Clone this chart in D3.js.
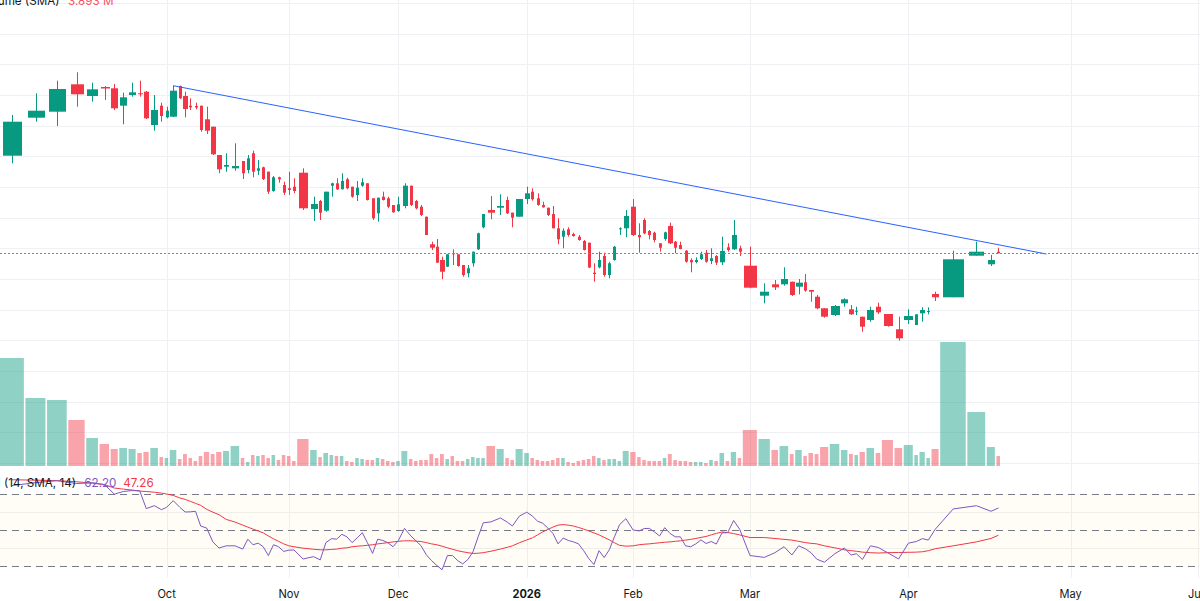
<!DOCTYPE html>
<html><head><meta charset="utf-8">
<script src="https://cdn.jsdelivr.net/npm/d3@7"></script>
<style>
html,body{margin:0;padding:0;background:#fff;overflow:hidden}
svg{display:block;font-family:Inter,"Noto Sans",sans-serif}
</style></head><body>
<svg id="chart" width="1200" height="601"></svg>
<script>
// ---------- DATA ----------
const opens = [44.43,48.23,48.83,51.57,50.40,51.30,51.17,49.43,50.50,50.67,
50.83,47.50,49.43,48.27,48.33,51.40,50.40,49.43,49.40,49.43,
48.07,47.33,44.50,43.33,43.17,43.90,43.00,44.67,42.93,43.27,
42.83,40.90,42.27,41.50,41.17,41.33,42.73,39.10,39.90,38.93,
41.43,41.67,41.07,42.07,41.33,40.50,41.43,41.67,40.17,38.67,
40.33,40.17,39.50,38.90,39.40,41.43,39.90,39.33,38.33,35.57,
35.33,34.00,33.33,34.67,34.57,33.50,32.67,33.67,35.07,37.27,
39.00,39.23,40.00,38.73,38.33,40.10,40.83,40.17,39.50,39.23,
38.60,37.17,36.33,37.07,36.60,36.33,35.90,35.73,32.73,33.27,
34.40,32.50,34.00,37.07,37.17,39.33,36.50,38.00,36.90,36.73,
35.67,36.10,37.40,35.83,35.50,34.93,34.00,33.80,34.10,34.73,
33.90,34.40,33.77,35.27,35.07,35.17,33.43,30.43,31.57,31.57,
31.83,31.33,31.77,31.00,30.33,29.17,28.50,29.67,29.07,28.83,
28.33,28.00,29.33,28.60,27.07,28.00,27.50,28.67,28.80,30.60,
30.27,34.43,33.57,34.83];
const highs = [48.50,50.67,51.93,52.77,51.73,51.40,51.60,50.73,51.73,51.93,
50.90,50.50,49.73,49.33,51.43,51.43,50.83,50.17,49.73,49.43,
49.33,47.33,44.50,44.67,45.67,43.90,44.50,44.93,44.00,43.33,
42.83,42.40,42.33,41.83,42.83,42.17,43.17,40.33,40.00,40.83,
41.73,42.17,42.67,42.23,41.33,41.90,42.17,41.67,40.17,40.23,
40.83,40.33,39.50,40.33,41.67,41.43,40.00,39.50,38.33,35.83,
36.10,34.33,34.57,35.07,34.57,33.50,33.50,34.83,36.73,38.60,
40.40,40.57,40.33,38.73,40.10,41.33,41.17,40.67,39.83,39.23,
39.40,38.17,37.17,37.27,36.73,36.50,36.00,35.73,33.67,34.83,
34.73,33.83,35.40,37.27,39.00,40.10,37.67,38.17,37.00,36.83,
35.67,36.83,37.73,35.90,35.83,35.00,34.17,34.27,34.83,35.00,
35.17,34.50,36.33,35.67,38.00,35.43,35.33,31.67,32.00,33.27,
31.83,32.10,32.60,31.00,30.50,29.17,29.50,30.17,29.50,29.33,
28.33,29.33,29.73,28.60,28.33,29.07,28.57,29.27,29.27,30.83,
34.93,35.83,34.50,35.23];
const lows = [43.67,47.83,47.40,49.33,49.83,50.00,49.00,47.57,50.33,50.33,
48.10,46.93,47.83,48.17,48.30,50.10,48.27,49.00,49.07,46.83,
46.60,44.50,42.67,42.83,42.93,42.10,42.67,42.27,42.50,42.00,
40.60,40.83,41.73,40.50,40.50,40.67,39.00,37.90,38.00,38.83,
40.33,41.00,41.07,41.07,40.23,39.90,41.33,39.95,38.00,37.83,
39.95,39.17,38.73,38.83,39.17,39.40,39.07,38.40,36.50,35.00,
33.73,32.07,33.33,33.50,33.33,32.33,32.27,33.33,35.00,37.17,
38.07,38.50,38.60,37.27,38.33,39.60,39.93,39.43,39.23,38.40,
37.17,35.57,35.17,36.33,36.33,35.93,34.95,33.20,31.83,33.17,
32.33,32.17,33.93,36.50,36.27,36.40,34.73,36.57,36.07,35.77,
34.83,35.93,35.60,34.67,35.07,33.73,32.77,33.67,34.00,33.73,
33.60,33.50,33.50,34.83,35.00,34.40,31.17,29.67,31.00,31.43,
30.40,30.57,30.83,29.83,29.07,28.23,28.40,29.33,28.50,28.50,
26.83,27.83,28.60,27.33,25.93,27.60,27.50,27.83,28.57,29.90,
30.27,34.43,33.40,34.67];
const closes = [47.83,48.93,51.10,50.57,51.07,51.15,49.17,50.27,50.77,50.57,
48.17,49.00,48.40,48.93,50.93,50.17,49.10,49.27,49.25,47.00,
46.93,44.57,43.07,43.50,43.40,42.67,44.17,42.83,43.17,42.10,
40.83,42.27,42.07,40.73,41.00,40.90,39.17,39.60,38.73,40.83,
41.67,41.07,41.90,41.17,40.33,41.23,41.77,40.00,38.17,40.23,
40.00,39.33,38.77,39.57,41.43,39.50,39.17,38.50,36.50,35.23,
33.73,32.83,34.57,34.57,33.40,32.50,33.17,34.83,36.67,38.60,
38.73,39.40,38.67,38.23,40.10,40.67,40.07,39.50,39.27,38.50,
37.17,36.07,36.93,36.50,36.40,36.00,35.00,33.25,32.60,34.00,
32.50,33.67,35.33,37.17,38.40,36.50,36.27,36.67,36.50,36.00,
35.23,36.77,35.67,35.23,35.10,33.83,33.77,34.00,34.57,33.83,
34.17,33.73,34.90,35.00,36.50,34.83,31.23,30.83,31.27,32.10,
30.50,31.73,30.93,30.83,29.17,28.33,29.40,30.07,28.57,28.93,
27.33,29.00,28.77,27.40,26.17,28.40,28.57,29.00,28.90,30.27,
34.07,34.83,34.00,34.67];
const volumes = [21.6,13.6,13.2,9.2,5.6,4.4,3.4,3.6,3.4,2.6,
2.8,3.6,1.8,1.6,3.2,1.4,2.4,1.6,1.0,2.0,
2.8,2.4,2.8,3.0,4.0,1.6,0.8,2.2,2.0,2.2,
1.6,2.2,1.2,2.2,2.0,1.0,5.4,3.2,1.8,2.6,
2.2,2.0,2.0,1.0,0.8,1.6,1.4,1.2,1.2,1.6,
1.4,1.0,0.8,1.0,3.0,1.4,1.0,1.2,1.2,2.4,
1.6,2.4,1.4,2.0,1.0,1.0,1.4,1.8,1.6,1.6,
4.0,3.4,1.6,1.2,3.4,2.6,1.6,1.2,1.0,1.0,
1.2,1.6,1.6,0.8,0.6,1.0,1.2,1.4,2.0,1.6,
1.2,1.4,1.4,1.0,3.0,2.8,1.8,1.2,1.0,1.0,
1.0,1.6,2.4,1.2,1.0,1.0,0.8,0.8,0.8,0.6,
1.2,1.0,2.6,1.0,2.8,1.6,7.2,5.4,3.2,4.0,
2.4,3.2,2.0,2.6,2.4,3.8,4.4,3.2,2.4,2.2,
2.8,3.6,2.6,5.2,3.6,4.2,2.2,2.8,1.6,3.4,
24.8,10.8,3.8,2.0];
const rsiValues = [74.7,76.3,77.4,75.8,76.3,75.2,69.9,71.4,71.9,71.8,
61.9,63.5,61.3,62.6,66.3,62.6,60.0,60.1,60.4,52.2,
51.1,43.4,40.0,41.2,41.2,39.4,44.9,41.8,42.7,40.7,
35.8,41.8,40.7,38.1,38.8,38.9,33.9,35.2,33.4,43.0,
45.2,44.9,47.6,46.2,43.0,45.6,48.5,42.9,37.0,44.9,
44.2,42.9,40.7,44.0,50.9,46.7,44.0,41.2,36.3,33.0,
30.3,27.9,35.8,35.8,33.0,31.2,33.6,37.9,46.2,54.0,
54.5,56.7,54.4,52.2,57.7,59.9,57.7,54.9,53.8,51.1,
48.1,42.3,45.5,44.2,43.4,42.3,38.5,34.1,30.8,38.5,
34.7,39.0,46.2,53.0,56.3,50.0,49.5,50.8,50.9,48.9,
46.7,51.3,48.1,46.2,46.2,41.2,40.7,42.3,44.5,42.5,
43.6,42.2,48.4,48.5,55.3,50.4,35.8,34.8,37.4,40.7,
36.1,41.2,39.6,37.4,33.8,32.1,36.8,40.0,36.1,36.8,
33.6,41.2,40.3,37.4,33.9,42.7,43.6,45.2,44.4,50.4,
61.7,63.5,60.4,62.2];
const rsiMA = [77.9,77.7,77.4,76.8,76.0,75.2,73.3,72.7,72.2,71.6,
71.4,71.0,70.5,70.0,69.2,67.8,67.0,65.9,64.8,63.7,
61.5,59.9,58.5,55.9,54.4,52.7,51.6,50.5,49.5,48.4,
46.7,45.1,43.7,42.3,41.2,40.7,39.9,39.3,39.0,39.0,
39.2,39.4,39.9,40.1,40.7,41.0,41.2,41.5,41.8,42.3,
42.6,43.0,43.4,43.7,44.0,44.0,43.8,43.6,43.0,42.3,
41.8,41.0,40.1,39.3,38.5,37.9,37.4,37.0,37.1,37.4,
38.2,39.4,40.4,41.2,42.9,44.5,45.6,47.3,48.9,50.3,
51.6,52.7,53.0,52.7,52.2,51.4,50.5,49.5,48.4,47.3,
45.9,44.5,42.9,41.5,41.0,41.2,41.8,42.1,42.3,42.6,
42.9,43.2,43.4,43.7,44.0,44.4,44.8,45.3,45.9,46.4,
47.3,48.1,48.9,48.6,48.0,47.3,45.8,45.8,45.3,44.8,
44.4,43.7,43.0,42.6,42.3,41.2,40.1,39.0,38.5,38.2,
37.7,37.4,37.2,37.4,37.5,37.6,37.7,37.9,38.5,39.6,
41.2,43.4,45.3,47.1];
const monthLabels = ["Oct","Nov","Dec","2026","Feb","Mar","Apr","May","Jun"];
const monthBars = [13,34,53,75,95,116,135,155,176];   // bar index where each month starts (>= n : future bars)
const trendBars = [14,151];
const trendPrices = [51.43,34.6];
const rsiLevels = [70,50,30];
const volumeLegend = ["Volume (SMA)","3.893 M"];
const rsiLegend = ["RSI (14, SMA, 14)","62.20","47.26"];

// ---------- LAYOUT ----------
const UP="#089981", DOWN="#f23645";
const UPV="rgba(8,153,129,0.45)", DOWNV="rgba(242,54,69,0.45)";
const GRID="#eef0f4", TEXT="#131722";
const svg=d3.select("#chart");
const n=closes.length;

// equivolume-style bar slots: width grows with volume
const slotWidth=v=>Math.max(5, 9.06*Math.log(5*v)-17.2);
const slots=volumes.map(slotWidth);
const cum=d3.cumsum([0,...slots]);
const total=cum[n];
const FUTURE=5.9;
const x=d3.scaleLinear().domain([0,total]).range([-1,1001]);
const k=x(1)-x(0);
const center=i=> i<n ? x(cum[i]+slots[i]/2) : x(total+(i-n+0.5)*FUTURE);

const y=d3.scaleLinear().domain([0,60]).range([600,0]);
const yV=d3.scaleLinear().domain([0,25]).range([466,341]);
const yR=d3.scaleLinear().domain([30,70]).range([566,494]);

// font fitting helper (matches the reference's text widths)
function fitSize(str,target,weight){
  const t=svg.append("text").attr("font-size",100).attr("font-weight",weight||400).text(str);
  const w=t.node().getComputedTextLength(); t.remove();
  return 100*target/w;
}
const legendSize=fitSize("(14, SMA, 14)",72);
const axisSize=fitSize("Nov",21);

// grid
const gGrid=svg.append("g");
gGrid.selectAll("line.h").data(d3.range(16)).join("line")
  .attr("x1",0).attr("x2",1200)
  .attr("y1",d=>Math.round(3+d*30.67)+0.5).attr("y2",d=>Math.round(3+d*30.67)+0.5)
  .attr("stroke",GRID);
gGrid.selectAll("line.r").data([60,40]).join("line")
  .attr("x1",0).attr("x2",1200)
  .attr("y1",d=>Math.round(yR(d))+0.5).attr("y2",d=>Math.round(yR(d))+0.5)
  .attr("stroke",GRID);
gGrid.selectAll("line.v").data(monthBars).join("line")
  .attr("x1",d=>Math.round(center(d))+0.5).attr("x2",d=>Math.round(center(d))+0.5)
  .attr("y1",0).attr("y2",578).attr("stroke",GRID);

// RSI band
svg.append("rect").attr("x",0).attr("width",1200)
  .attr("y",yR(70)).attr("height",yR(30)-yR(70)).attr("fill","rgba(255,226,130,0.08)");
svg.append("g").selectAll("line").data(rsiLevels).join("line")
  .attr("x1",0).attr("x2",1200)
  .attr("y1",d=>Math.round(yR(d))+0.5).attr("y2",d=>Math.round(yR(d))+0.5)
  .attr("stroke","#787b86").attr("stroke-dasharray","7,5");

// volume
svg.append("g").selectAll("rect").data(d3.range(n)).join("rect")
  .attr("x",i=>x(cum[i])+0.6)
  .attr("width",i=>Math.max(1,slots[i]*k-1.6))
  .attr("y",i=>yV(volumes[i])).attr("height",i=>yV(0)-yV(volumes[i]))
  .attr("fill",i=>closes[i]>=opens[i]?UPV:DOWNV);

// candles
const gC=svg.append("g");
const cx=i=>Math.round(center(i))+0.5;
const bodyW=i=>Math.max(1,2*Math.round((slots[i]*k*0.77-1)/2)+1);
gC.selectAll("line").data(d3.range(n)).join("line")
  .attr("x1",cx).attr("x2",cx)
  .attr("y1",i=>y(highs[i])).attr("y2",i=>y(lows[i]))
  .attr("stroke",i=>closes[i]>=opens[i]?UP:DOWN).attr("stroke-width",1);
gC.selectAll("rect").data(d3.range(n)).join("rect")
  .attr("x",i=>cx(i)-bodyW(i)/2).attr("width",bodyW)
  .attr("y",i=>y(Math.max(opens[i],closes[i])))
  .attr("height",i=>Math.max(1,Math.abs(y(opens[i])-y(closes[i]))))
  .attr("fill",i=>closes[i]>=opens[i]?UP:DOWN);

// trend line
svg.append("line")
  .attr("x1",center(trendBars[0])).attr("y1",y(trendPrices[0]))
  .attr("x2",center(trendBars[1])).attr("y2",y(trendPrices[1]))
  .attr("stroke","#2962ff").attr("stroke-width",1);

// last price line
const lp=Math.round(y(closes[n-1]))+0.5;
svg.append("line").attr("x1",0).attr("x2",1200).attr("y1",lp).attr("y2",lp)
  .attr("stroke","#f7525f").attr("stroke-width",1.2).attr("stroke-dasharray","1.5,2.5")
  .attr("shape-rendering","crispEdges");

// RSI lines
const lineR=d3.line().x((d,i)=>center(i)).y(d=>yR(d));
svg.append("path").attr("d",lineR(rsiMA)).attr("fill","none").attr("stroke","#f23645").attr("stroke-width",1);
svg.append("path").attr("d",lineR(rsiValues)).attr("fill","none").attr("stroke","#7e57c2").attr("stroke-width",1);

// legends
const lg=svg.append("g").attr("font-size",legendSize);
lg.append("text").attr("x",59.5).attr("y",5).attr("text-anchor","end").attr("fill",TEXT).text(volumeLegend[0]);
lg.append("text").attr("x",68).attr("y",5).attr("fill","#f7525f").text(volumeLegend[1]);
lg.append("text").attr("x",76).attr("y",487).attr("text-anchor","end").attr("fill",TEXT).text(rsiLegend[0]);
lg.append("text").attr("x",84.3).attr("y",487).attr("fill","#7e57c2").text(rsiLegend[1]);
lg.append("text").attr("x",123.3).attr("y",487).attr("fill","#f23645").text(rsiLegend[2]);

// time axis labels
svg.append("g").attr("font-size",axisSize).selectAll("text").data(monthLabels).join("text")
  .attr("x",(d,j)=>center(monthBars[j])).attr("y",598).attr("text-anchor","middle")
  .attr("fill",TEXT).attr("font-weight",d=>/^\d{4}$/.test(d)?700:400).text(d=>d);
</script>
</body></html>
